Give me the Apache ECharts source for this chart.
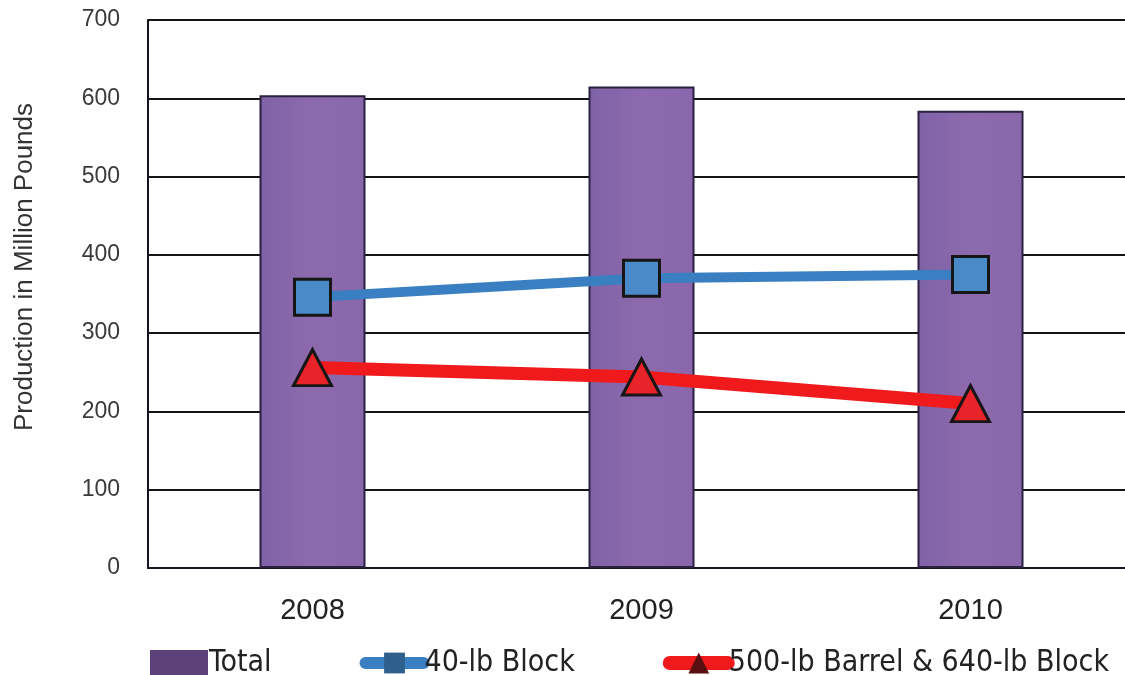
<!DOCTYPE html>
<html>
<head>
<meta charset="utf-8">
<style>
  html, body { margin: 0; padding: 0; background: #ffffff; }
  #chart { width: 1125px; height: 675px; }
</style>
<script src="https://cdn.jsdelivr.net/npm/echarts@6/dist/echarts.min.js"></script>
</head>
<body>
<div id="chart"></div>
<script>
// Cheese production by block/barrel type, million pounds
const years = ['2008', '2009', '2010'];
const totalProduction = [604, 615, 584];
const block40lb = [346, 370, 375];
const barrelAndBlock640 = [256, 244, 210];
const yTicks = [0, 100, 200, 300, 400, 500, 600, 700];

const chart = echarts.init(document.getElementById('chart'));

const legendFont = '"Liberation Sans Narrow", "DejaVu Sans Condensed", "Liberation Sans", sans-serif';
const axisFont = '"Liberation Sans", Arial, sans-serif';

chart.setOption({
  backgroundColor: '#ffffff',
  animation: false,
  grid: {
    left: 148, top: 20, width: 987, height: 548,
    containLabel: false,
    outerBoundsMode: 'none'
  },
  legend: {
    left: 145,
    top: 643,
    itemWidth: 58,
    itemHeight: 26,
    itemGap: 88,
    textStyle: { fontFamily: legendFont, fontSize: 30, color: '#222222', padding: [0, 0, 0, -4] },
    data: [
      { name: 'Total', icon: 'rect', itemStyle: { color: '#5c4278', borderWidth: 0 } },
      { name: '40-lb Block', lineStyle: { width: 12, cap: 'round' }, itemStyle: { color: '#2f5f8c', borderWidth: 0 } },
      { name: '500-lb Barrel & 640-lb Block', lineStyle: { width: 14, cap: 'round' }, itemStyle: { color: '#5a1010', borderWidth: 0 } }
    ]
  },
  xAxis: {
    type: 'category',
    data: years,
    boundaryGap: true,
    axisLine: { show: true, lineStyle: { color: '#1a1420', width: 2 } },
    axisTick: { show: false },
    axisLabel: { fontFamily: axisFont, fontSize: 29, color: '#222222', margin: 28 }
  },
  yAxis: {
    type: 'value',
    min: yTicks[0],
    max: yTicks[yTicks.length - 1],
    interval: 100,
    name: 'Production in Million Pounds',
    nameLocation: 'middle',
    nameGap: 110,
    nameRotate: 90,
    nameTextStyle: { fontFamily: axisFont, fontSize: 26, color: '#333333', padding: [0, 0, 0, 54] },
    axisLine: { show: true, lineStyle: { color: '#1a1420', width: 2 } },
    axisTick: { show: false },
    axisLabel: { fontFamily: axisFont, fontSize: 23, color: '#3a3a3a', margin: 28 },
    splitLine: { show: true, lineStyle: { color: '#141414', width: 2 } }
  },
  series: [
    {
      name: 'Total',
      type: 'bar',
      data: totalProduction,
      barWidth: 106,
      itemStyle: {
        color: {
          type: 'linear', x: 0, y: 0, x2: 1, y2: 0,
          colorStops: [
            { offset: 0, color: '#7f62a6' },
            { offset: 0.5, color: '#8d6aad' },
            { offset: 1, color: '#8867aa' }
          ]
        },
        borderColor: '#2b2040',
        borderWidth: 2
      },
      z: 1
    },
    {
      name: '40-lb Block',
      type: 'line',
      data: block40lb,
      symbol: 'rect',
      symbolSize: 36,
      lineStyle: { color: '#3a7fc2', width: 10 },
      itemStyle: { color: '#4a8ac8', borderColor: '#161616', borderWidth: 3 },
      z: 3
    },
    {
      name: '500-lb Barrel & 640-lb Block',
      type: 'line',
      data: barrelAndBlock640,
      symbol: 'triangle',
      symbolSize: [38, 36],
      lineStyle: { color: '#f0191c', width: 13 },
      itemStyle: { color: '#e8232a', borderColor: '#161616', borderWidth: 3 },
      z: 2
    }
  ]
});
</script>
</body>
</html>
